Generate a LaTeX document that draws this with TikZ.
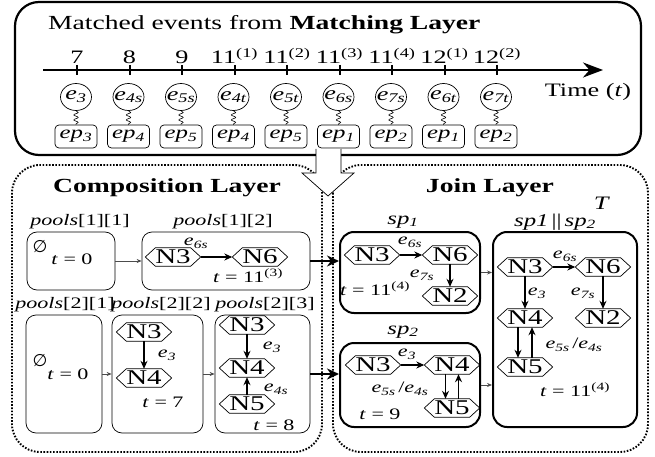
\documentclass[tikz,border=0pt]{standalone}
\usepackage{fontspec}
\setmainfont[FakeStretch=1.38]{Liberation Serif}
\newfontfamily\symfont{DejaVu Sans}
\usetikzlibrary{arrows.meta,shapes.geometric,decorations.pathmorphing}
\newcommand\fsz[1]{\fontsize{#1}{#1}\selectfont}
\newcommand\sbi[2]{\textit{#1}\textsubscript{\textit{#2}}}
\newcommand\tsup[1]{\textsuperscript{(#1)}}
\begin{document}
\begin{tikzpicture}[x=1pt,y=-1pt,
  layerbox/.style={draw, line width=1.9pt, dash pattern=on 1.6pt off 1.6pt, rounded corners=28pt},
  topbox/.style={draw, line width=2.2pt, rounded corners=24pt},
  pbox/.style={draw, rounded corners=10pt, line width=0.7pt, inner sep=0pt},
  jbox/.style={draw, rounded corners=14pt, line width=2pt, inner sep=0pt},
  hexa/.style={rectangle, minimum height=18pt, minimum width=55pt, inner sep=0pt, font=\fsz{21},
     append after command={\pgfextra{\draw[line width=0.7pt, line join=miter]
       (\tikzlastnode.west) -- ([xshift=10pt]\tikzlastnode.north west) -- ([xshift=-10pt]\tikzlastnode.north east)
       -- (\tikzlastnode.east) -- ([xshift=-10pt]\tikzlastnode.south east) -- ([xshift=10pt]\tikzlastnode.south west) -- cycle;}}},
  evc/.style={ellipse, draw, line width=0.7pt, minimum width=31pt, minimum height=27pt, inner sep=-4pt, font=\fsz{19}},
  epb/.style={draw, rounded corners=4pt, line width=0.7pt, minimum width=42pt, minimum height=23pt, inner sep=0pt, font=\fsz{18}},
  snk/.style={line width=0.6pt, decorate, decoration={snake, amplitude=2.2pt, segment length=5pt}},
  ttl/.style={font=\fsz{20}\bfseries, inner sep=0pt},
  plab/.style={font=\fsz{16}, inner sep=0pt},
  tlab/.style={font=\fsz{16}, inner sep=0pt},
  elab/.style={font=\fsz{16}, inner sep=0pt},
  narr/.style={line width=1.2pt, -{Stealth[length=8pt,width=7pt]}},
  sarr/.style={line width=0.7pt, draw=black!70, -{Stealth[length=5pt,width=4pt]}},
  tarr/.style={line width=2pt, -{Stealth[length=12pt,width=11pt]}}
]
\useasboundingbox (0,0) rectangle (655,457);

% layers
\draw[layerbox] (12,165) rectangle (322,452);
\draw[layerbox] (333,165) rectangle (648,452);

% top box
\draw[topbox] (15,2) rectangle (641,155);
\node[anchor=base west, font=\fsz{20}, inner sep=0pt] (title) at (48,30) {Matched events from \textbf{Matching Layer}};
\coordinate (tl0) at (43,70);
\coordinate (tl1) at (603,70);
\draw[line width=2.2pt, -{Stealth[length=20pt,width=15pt]}] (tl0) -- (tl1);
\foreach \i/\lab/\ev/\ep in {0/7/3/3, 1/8/4s/4, 2/9/5s/5, 3/{11\tsup{1}}/4t/4, 4/{11\tsup{2}}/5t/5, 5/{11\tsup{3}}/6s/1, 6/{11\tsup{4}}/7s/2, 7/{12\tsup{1}}/6t/1, 8/{12\tsup{2}}/7t/2}{
  \pgfmathsetmacro\xx{77+52.5*\i}
  \coordinate (ka\i) at (\xx,65);
  \coordinate (kb\i) at (\xx,75);
  \draw[line width=2pt] (ka\i) -- (kb\i);
  \node[font=\fsz{19}, anchor=base, inner sep=0pt] (tk\i) at (\xx,64) {\lab};
  \node[evc] (ev\i) at (\xx-1,97) {\sbi{e}{\ev}};
  \node[epb] (ep\i) at (\xx-1,136.5) {\sbi{ep}{\ep}};
  \draw[snk] (ev\i) -- (ep\i);
}
\node[font=\fsz{19}, inner sep=0pt] (time) at (588,92) {Time (\textit{t})};

% big hollow arrow
\fill[white] (316,149) -- (316,173) -- (302,173) -- (328,196) -- (354,173) -- (341,173) -- (341,149) -- cycle;
\draw[line width=0.7pt, line join=miter] (316,149) -- (316,173) -- (302,173) -- (328,196) -- (354,173) -- (341,173) -- (341,149);

% composition layer
\node[ttl] (cl) at (167,188) {Composition Layer};
\node[plab] (l11) at (80,222) {\textit{pools}[1][1]};
\node[plab] (l12) at (223,222) {\textit{pools}[1][2]};
\node[pbox, minimum width=88pt, minimum height=58pt] (p11) at (71,261) {};
\node[font=\symfont\fontsize{17}{17}\selectfont, inner sep=0pt] (z11) at (40,247) {∅};
\node[tlab] (t11) at (72,259) {\textit{t} = 0};
\node[pbox, minimum width=168pt, minimum height=58pt] (p12) at (226,261) {};
\node[hexa] (a3) at (173,257) {N3};
\node[hexa] (a6) at (260,257) {N6};
\draw[narr] (a3) -- (a6);
\node[elab] (la36) at (196,243) {\sbi{e}{6s}};
\node[tlab] (t12) at (248,276) {\textit{t} = 11\tsup{3}};
\draw[sarr] (p11) -- (p12);

\node[plab] (l21) at (65,305) {\textit{pools}[2][1]};
\node[plab] (l22) at (161,305) {\textit{pools}[2][2]};
\node[plab] (l23) at (265,305) {\textit{pools}[2][3]};
\node[pbox, minimum width=76pt, minimum height=118pt] (p21) at (64,374) {};
\node[font=\symfont\fontsize{17}{17}\selectfont, inner sep=0pt] (z21) at (40,361) {∅};
\node[tlab] (t21) at (68,374) {\textit{t} = 0};
\node[pbox, minimum width=91pt, minimum height=118pt] (p22) at (157.5,374) {};
\node[hexa] (b3) at (144,332) {N3};
\node[hexa] (b4) at (144,378) {N4};
\draw[narr] (b3) -- (b4);
\node[elab] (lb34) at (167,355) {\sbi{e}{3}};
\node[tlab] (t22) at (163,402) {\textit{t} = 7};
\node[pbox, minimum width=95pt, minimum height=118pt] (p23) at (262.5,374) {};
\node[hexa] (c3) at (247,325) {N3};
\node[hexa] (c4) at (247,368) {N4};
\node[hexa] (c5) at (247,404) {N5};
\draw[narr] (c3) -- (c4);
\draw[narr] (c5) -- (c4);
\node[elab] (lc34) at (272,347) {\sbi{e}{3}};
\node[elab] (lc54) at (276,389) {\sbi{e}{4s}};
\node[tlab] (t23) at (274,425) {\textit{t} = 8};
\draw[sarr] (p21) -- (p22);
\draw[sarr] (p22) -- (p23);

% join layer
\node[ttl] (jl) at (490,188) {Join Layer};
\node[font=\fsz{19}, inner sep=0pt] (tT) at (602,203) {\textit{T}};
\node[font=\fsz{18}, inner sep=0pt] (ls1) at (403,222) {\sbi{sp}{1}};
\node[font=\fsz{18}, inner sep=0pt] (lsj) at (555,222) {\textit{sp1}\,||\,\sbi{sp}{2}};
\node[font=\fsz{18}, inner sep=0pt] (ls2) at (403,332) {\sbi{sp}{2}};

\node[jbox, minimum width=140pt, minimum height=81pt] (s1) at (410,272.5) {};
\node[hexa] (d3) at (372,255) {N3};
\node[hexa] (d6) at (450,255) {N6};
\node[hexa] (d2) at (450,296) {N2};
\draw[narr] (d3) -- (d6);
\draw[narr] (d6) -- (d2);
\node[elab] (ld36) at (410,242) {\sbi{e}{6s}};
\node[elab] (ld62) at (422,275) {\sbi{e}{7s}};
\node[tlab] (ts1) at (375,289) {\textit{t} = 11\tsup{4}};

\node[jbox, minimum width=140pt, minimum height=84pt] (s2) at (410,385) {};
\node[hexa] (f3) at (373,365) {N3};
\node[hexa] (f4) at (452,365) {N4};
\node[hexa] (f5) at (452,408) {N5};
\draw[narr] (f3) -- (f4);
\draw[narr] ([xshift=-6.5pt]f4.south) -- ([xshift=-6.5pt]f5.north);
\draw[narr] ([xshift=6.5pt]f5.north) -- ([xshift=6.5pt]f4.south);
\node[elab] (lf34) at (407,354) {\sbi{e}{3}};
\node[elab] (lf45) at (400,389) {\sbi{e}{5s}\,/\sbi{e}{4s}};
\node[tlab] (ts2) at (380,414) {\textit{t} = 9};

\node[jbox, minimum width=144pt, minimum height=195pt] (sj) at (565,329.5) {};
\node[hexa] (g3) at (525,267) {N3};
\node[hexa] (g6) at (603,267) {N6};
\node[hexa] (g4) at (525,318) {N4};
\node[hexa] (g2) at (603,318) {N2};
\node[hexa] (g5) at (525,367) {N5};
\draw[narr] (g3) -- (g6);
\draw[narr] (g3) -- (g4);
\draw[narr] (g6) -- (g2);
\draw[narr] ([xshift=-7pt]g4.south) -- ([xshift=-7pt]g5.north);
\draw[narr] ([xshift=7pt]g5.north) -- ([xshift=7pt]g4.south);
\node[elab] (lg36) at (565,256) {\sbi{e}{6s}};
\node[elab] (lg34) at (537,293) {\sbi{e}{3}};
\node[elab] (lg62) at (583,293) {\sbi{e}{7s}};
\node[elab] (lg45) at (574,345) {\sbi{e}{5s}\,/\sbi{e}{4s}};
\node[tlab] (tsj) at (575,390) {\textit{t} = 11\tsup{4}};

% connections between layers
\draw[tarr] (p12.east) -- (p12.east -| s1.west);
\draw[tarr] (p23.east) -- (p23.east -| s2.west);
\draw[sarr] (s1.east) -- (s1.east -| sj.west);
\draw[sarr] (s2.east) -- (s2.east -| sj.west);
\end{tikzpicture}
\end{document}
